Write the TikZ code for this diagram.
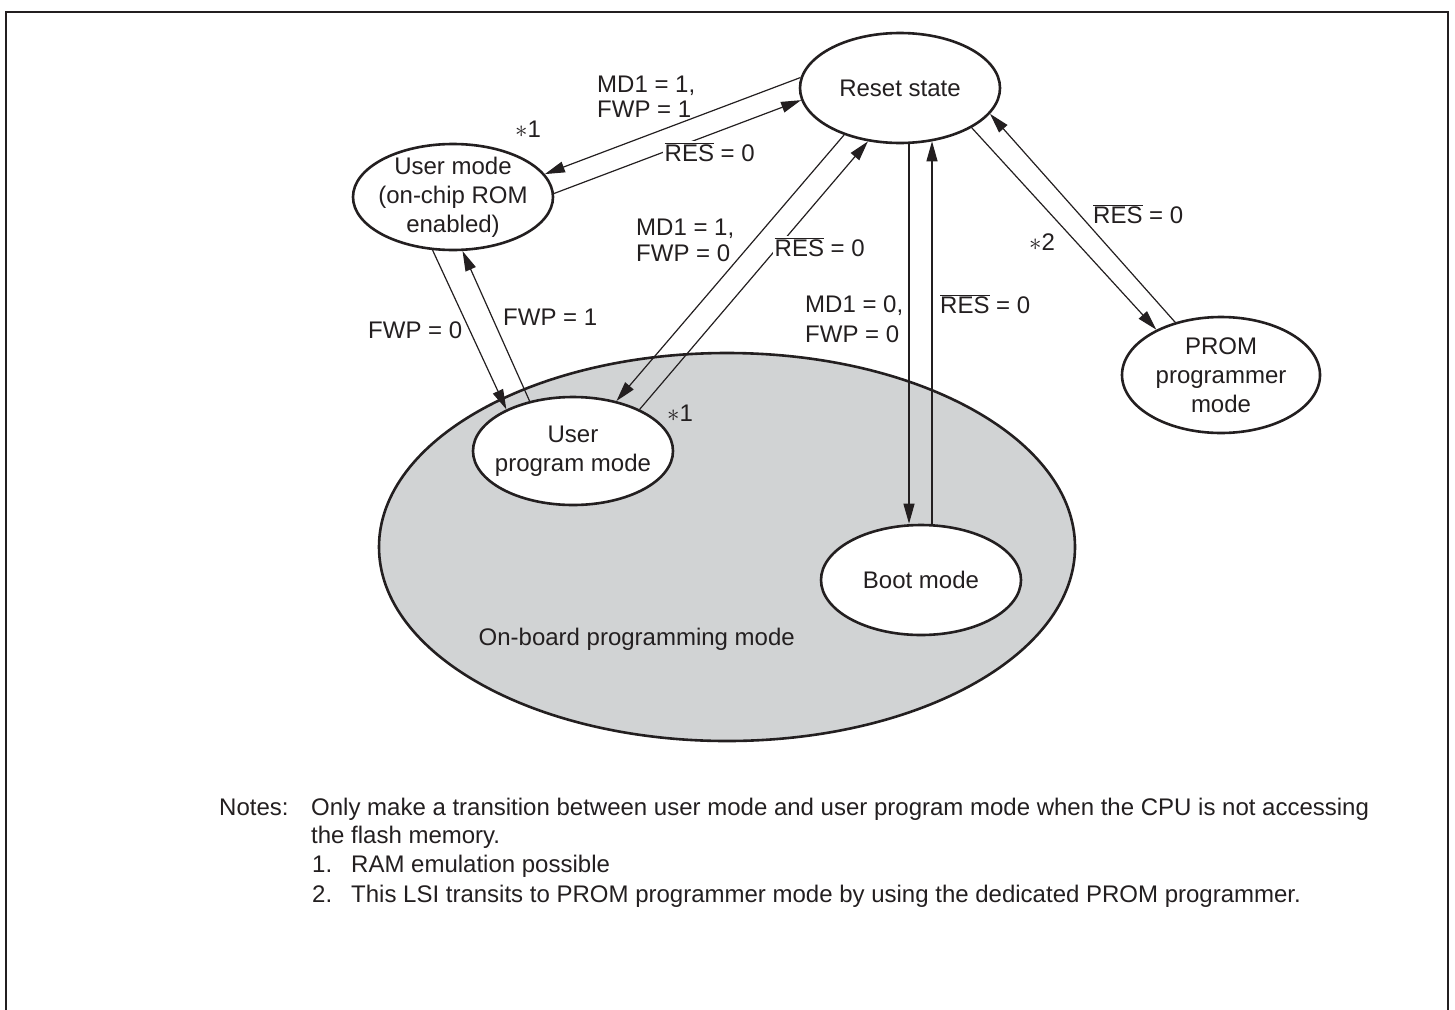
\documentclass[tikz,border=0pt]{standalone}
\usepackage{fontspec}
\setmainfont{Liberation Sans}
\usetikzlibrary{arrows.meta,shapes.geometric}
\definecolor{ink}{HTML}{231F20}
\definecolor{boardgray}{HTML}{D1D3D4}
\newcommand{\resbar}{$\overline{\hbox{RES}}$}
\begin{document}
\begin{tikzpicture}[x=1pt,y=-1pt,
  font=\fontsize{24}{29}\selectfont,
  statebox/.style={ellipse, draw=ink, line width=2.6pt, fill=white, inner sep=0pt,
                   minimum width=200pt, minimum height=108pt},
  inner/.style={align=center, text=ink, inner sep=0pt},
  lbl/.style={anchor=base west, inner sep=0pt, text=ink},
  lble/.style={anchor=base east, inner sep=0pt, text=ink},
  lblw/.style={anchor=base west, inner sep=1.5pt, text=ink, fill=white},
  starnote/.style={inner sep=0pt, text=ink},
  arr/.style={draw=ink, line width=1.2pt, -{Triangle[length=20pt,width=11pt]}}]
\useasboundingbox (0,0) rectangle (1455,1009);
% frame
\draw[line width=2.4pt, ink] (6,1015) -- (6,12) -- (1448,12) -- (1448,1015);
% on-board region
\node[ellipse, draw=ink, fill=boardgray, line width=2.6pt, inner sep=0pt,
      minimum width=696pt, minimum height=388pt] (board) at (727,547) {};
\node[lble] (boardlbl) at (795,645) {On-board programming mode};
% states
\node[statebox, minimum height=110pt] (rs) at (900,88) {};
\node[inner] (rst) at (rs) {Reset state};
\node[statebox, minimum height=106pt] (um) at (453,197) {};
\node[inner] (umt) at (um) {User mode\\(on-chip ROM\\enabled)};
\node[statebox] (upm) at (573,451) {};
\node[inner] (upmt) at (upm) {User\\program mode};
\node[statebox, minimum height=110pt] (bt) at (921,580) {};
\node[inner] (btt) at (bt) {Boot mode};
\node[statebox, minimum width=198pt, minimum height=116pt] (pr) at (1221,375) {};
\node[inner] (prt) at (pr) {PROM\\programmer\\mode};
% connectors
\draw[arr] (rs.174) -- (um.14);
\draw[arr] (um.2) -- (rs.187);
\draw[arr] (rs.220) -- (upm.49);
\draw[arr] (upm.32) -- (rs.239);
\draw[arr] ([xshift=9pt]rs.south) -- ([xshift=-12pt]bt.north);
\draw[arr] ([xshift=11pt]bt.north) -- ([xshift=32pt,yshift=3pt]rs.south);
\draw[arr] (rs.331) -- (pr.145);
\draw[arr] (pr.131) -- (rs.344);
\draw[arr] (um.249) -- (upm.148);
\draw[arr] (upm.131) -- (um.280);
% labels
\node[lbl] (l1a) at (597,92) {MD1 = 1,};
\node[lbl] (l1b) at (597,117) {FWP = 1};
\node[starnote] (s1a) at (528,129) {$\ast$1};
\node[lblw] (l2) at (663,161) {\resbar{} = 0};
\node[lbl] (l3a) at (636,235) {MD1 = 1,};
\node[lbl] (l3b) at (636,261) {FWP = 0};
\node[lblw] (l4) at (773,256) {\resbar{} = 0};
\node[lbl] (l5a) at (805,312) {MD1 = 0,};
\node[lbl] (l5b) at (805,342) {FWP = 0};
\node[lbl] (l6) at (940,313) {\resbar{} = 0};
\node[starnote] (s2) at (1042,242) {$\ast$2};
\node[lbl] (l8) at (1093,223) {\resbar{} = 0};
\node[lbl] (l9) at (368,338) {FWP = 0};
\node[lbl] (l10) at (503,325) {FWP = 1};
\node[starnote] (s1b) at (680,413) {$\ast$1};
% notes
\node[lbl] (nh) at (219,815) {Notes:};
\node[lbl] (n1) at (311,815) {Only make a transition between user mode and user program mode when the CPU is not accessing};
\node[lbl] (n2) at (311,843) {the flash memory.};
\node[lbl] (n3a) at (312,872) {1.};
\node[lbl] (n3b) at (351,872) {RAM emulation possible};
\node[lbl] (n4a) at (312,902) {2.};
\node[lbl] (n4b) at (351,902) {This LSI transits to PROM programmer mode by using the dedicated PROM programmer.};
\end{tikzpicture}
\end{document}
